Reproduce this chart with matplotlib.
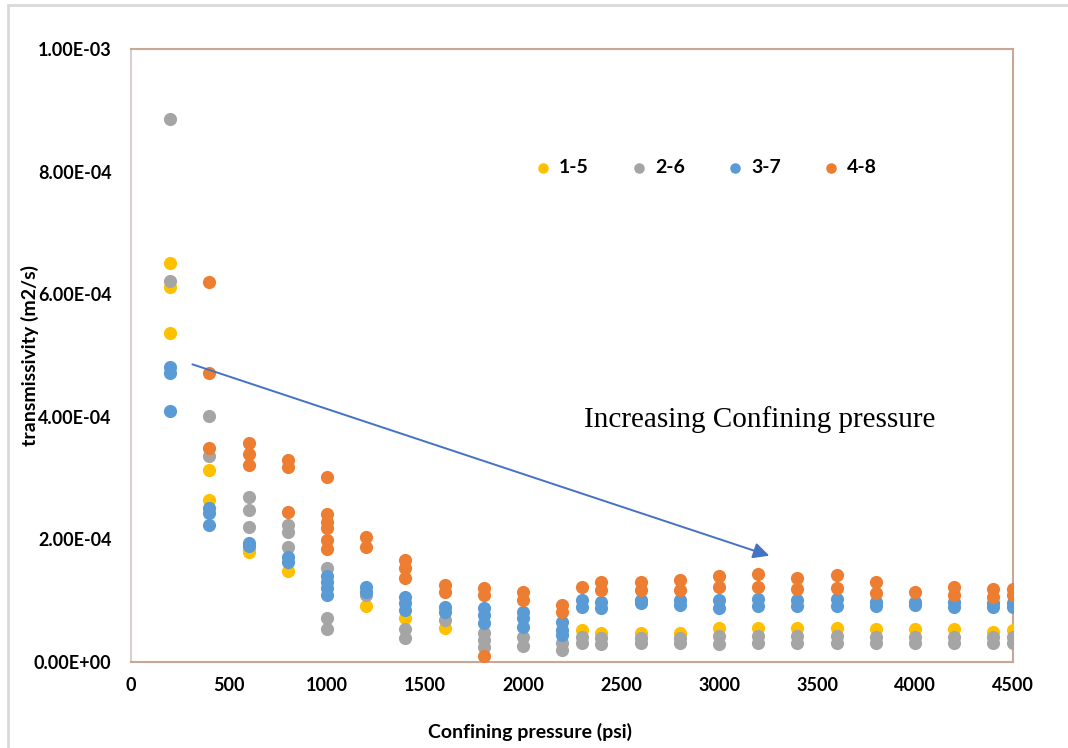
import numpy as np
import matplotlib.pyplot as plt
from matplotlib.patches import Rectangle

# данные, значения в единицах 1e-4 м2/с
p_15 = [200, 400, 600, 800, 1200, 1400, 1600, 2300, 2400, 2600, 2800, 3000, 3200,
        3400, 3600, 3800, 4000, 4200, 4400, 4500]
t_15 = [[6.51, 6.12, 5.37], [3.13, 2.64], [1.83, 1.79], [1.48], [0.91], [0.72], [0.55],
        [0.52], [0.47], [0.47], [0.47], [0.55], [0.55], [0.55], [0.56], [0.54], [0.54],
        [0.54], [0.49], [0.52]]

p_26 = [200, 400, 600, 800, 1000, 1200, 1400, 1600, 1800, 2000, 2200, 2300, 2400, 2600,
        2800, 3000, 3200, 3400, 3600, 3800, 4000, 4200, 4400, 4500]
t_26 = [[8.86, 6.22], [4.01, 3.36], [2.69, 2.48, 2.20], [2.23, 2.12, 1.87], [1.53, 0.72, 0.54],
        [1.09], [0.54, 0.39], [0.68], [0.47, 0.36, 0.24], [0.41, 0.26], [0.31, 0.20],
        [0.41, 0.31], [0.39, 0.30], [0.39, 0.31], [0.39, 0.31], [0.42, 0.29], [0.42, 0.31],
        [0.42, 0.31], [0.42, 0.31], [0.40, 0.31], [0.40, 0.31], [0.40, 0.31], [0.40, 0.31],
        [0.40, 0.31]]

p_37 = [200, 400, 600, 800, 1000, 1200, 1400, 1600, 1800, 2000, 2200, 2300, 2400, 2600,
        2800, 3000, 3200, 3400, 3600, 3800, 4000, 4200, 4400, 4500]
t_37 = [[4.82, 4.71, 4.09], [2.51, 2.43, 2.23], [1.94, 1.89], [1.71, 1.63],
        [1.40, 1.30, 1.21, 1.09], [1.22, 1.14], [1.06, 0.96, 0.85], [0.90, 0.81],
        [0.88, 0.77, 0.64], [0.81, 0.72, 0.57], [0.65, 0.52, 0.44], [1.01, 0.90],
        [0.98, 0.88], [1.01, 0.96], [1.01, 0.93], [1.01, 0.88], [1.03, 0.91], [1.01, 0.91],
        [1.03, 0.91], [0.98, 0.91], [0.98, 0.93], [0.98, 0.90], [0.96, 0.90], [0.96, 0.90]]

p_48 = [400, 600, 800, 1000, 1200, 1400, 1600, 1800, 2000, 2200, 2300, 2400, 2600, 2800,
        3000, 3200, 3400, 3600, 3800, 4000, 4200, 4400, 4500]
t_48 = [[6.20, 4.72, 3.49], [3.58, 3.39, 3.22], [3.29, 3.18, 2.44],
        [3.01, 2.41, 2.28, 2.18, 1.99, 1.84], [2.04, 1.87], [1.66, 1.53, 1.37], [1.25, 1.14],
        [1.20, 1.09, 0.10], [1.14, 1.01], [0.93, 0.81], [1.22], [1.30, 1.17], [1.30, 1.17],
        [1.34, 1.17], [1.40, 1.22], [1.43, 1.22], [1.37, 1.19], [1.42, 1.20], [1.30, 1.12],
        [1.14], [1.22, 1.09], [1.19, 1.06], [1.19, 1.09]]

series = [('1-5', p_15, t_15, '#FFC000'),
          ('2-6', p_26, t_26, '#A5A5A5'),
          ('3-7', p_37, t_37, '#5B9BD5'),
          ('4-8', p_48, t_48, '#ED7D31')]

plt.rcParams['font.family'] = ['Lato', 'DejaVu Sans']

fig = plt.figure(figsize=(10.68, 7.48), dpi=100)
ax = fig.add_axes([131/1068, 86/748, 882/1068, 613/748])

for name, p, t, c in series:
    xs = np.concatenate([[pp]*len(tt) for pp, tt in zip(p, t)])
    ys = np.concatenate([np.array(tt)*1e-4 for tt in t])
    ax.scatter(xs, ys, s=90, color=c, label=name, zorder=3, linewidths=0)

ax.set_xlim(0, 4500)
ax.set_ylim(0, 1e-3)
ax.set_xticks(np.arange(0, 4501, 500))
ax.set_yticks(np.arange(0, 1.01e-3, 2e-4))
ax.set_yticklabels(['0.00E+00', '2.00E-04', '4.00E-04', '6.00E-04', '8.00E-04', '1.00E-03'])
ax.tick_params(length=0, labelsize=13)
ax.tick_params(axis='y', pad=14)
ax.tick_params(axis='x', pad=11)
for lab in ax.get_xticklabels() + ax.get_yticklabels():
    lab.set_fontweight('bold')
for s in ['top', 'right', 'bottom']:
    ax.spines[s].set_color('#C9A797')
ax.spines['left'].set_color('#D6D0CE')
for s in ax.spines.values():
    s.set_linewidth(1.5)

ax.set_xlabel('Confining pressure (psi)', fontsize=14, fontweight='bold', va='center')
ax.set_ylabel('transmissivity (m2/s)', fontsize=14, fontweight='bold', va='center')
ax.xaxis.set_label_coords((530-131)/882, (662-732)/613)
ax.yaxis.set_label_coords((30-131)/882, (662-355)/613)

leg = ax.legend(ncol=4, loc='center', bbox_to_anchor=(0.651, 0.806), frameon=False,
                prop={'weight': 'bold', 'size': 14}, markerscale=0.8,
                handletextpad=0.3, columnspacing=2.1, handlelength=1.0)

ax.annotate('', xy=(3270, 1.72e-4), xytext=(300, 4.87e-4),
            arrowprops=dict(arrowstyle='-|>', color='#4472C4', lw=1.4, mutation_scale=24))
ax.text(2310, 3.96e-4, 'Increasing Confining pressure', fontsize=21,
        family='Liberation Serif', va='center', ha='left')

# рамка области диаграммы
fig.patches.append(Rectangle((8/1068, -0.1), 1.2, (748-5)/748 + 0.1, transform=fig.transFigure,
                             fill=False, edgecolor='#D9D9D9', lw=2))

fig.savefig('out.png', dpi=100)
